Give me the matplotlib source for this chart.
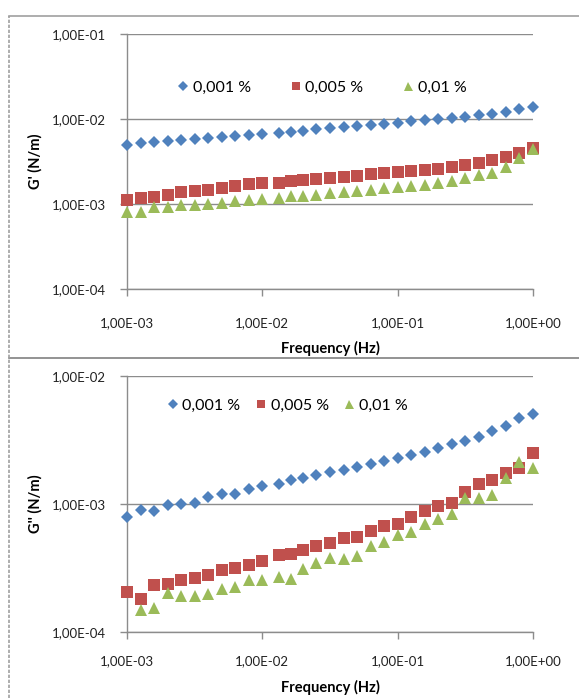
import matplotlib
matplotlib.use("Agg")
import matplotlib.pyplot as plt
from matplotlib.lines import Line2D
from matplotlib.ticker import FixedLocator, FuncFormatter, NullLocator
import numpy as np

plt.rcParams['font.family'] = ['Lato', 'DejaVu Sans']

# frequency (Hz)
freq = [0.001, 0.00126, 0.00158, 0.002, 0.00251, 0.00316, 0.00398, 0.00501, 0.00631, 0.00794,
        0.01, 0.0133, 0.0162, 0.02, 0.0251, 0.0316, 0.0398, 0.0501, 0.0631, 0.0794,
        0.1, 0.126, 0.158, 0.2, 0.251, 0.316, 0.398, 0.501, 0.631, 0.794, 1.0]

# G' (N/m)
g1_001 = [5.0e-3, 5.19e-3, 5.33e-3, 5.47e-3, 5.62e-3, 5.83e-3, 5.98e-3, 6.15e-3, 6.38e-3, 6.55e-3,
          6.67e-3, 6.92e-3, 7.11e-3, 7.30e-3, 7.57e-3, 7.85e-3, 8.06e-3, 8.28e-3, 8.59e-3, 8.82e-3,
          9.06e-3, 9.39e-3, 9.64e-3, 1.0e-2, 1.04e-2, 1.066e-2, 1.10e-2, 1.16e-2, 1.22e-2, 1.32e-2, 1.40e-2]
g1_005 = [1.12e-3, 1.17e-3, 1.22e-3, 1.29e-3, 1.37e-3, 1.43e-3, 1.47e-3, 1.54e-3, 1.64e-3, 1.70e-3,
          1.79e-3, 1.79e-3, 1.86e-3, 1.93e-3, 1.96e-3, 2.02e-3, 2.09e-3, 2.15e-3, 2.23e-3, 2.29e-3,
          2.37e-3, 2.42e-3, 2.48e-3, 2.57e-3, 2.71e-3, 2.89e-3, 3.02e-3, 3.31e-3, 3.62e-3, 3.96e-3, 4.62e-3]
g1_01 = [8.06e-4, 8.06e-4, 9.14e-4, 9.14e-4, 9.82e-4, 9.65e-4, 1.0e-3, 1.037e-3, 1.075e-3, 1.10e-3,
         1.13e-3, 1.18e-3, 1.23e-3, 1.24e-3, 1.29e-3, 1.33e-3, 1.38e-3, 1.43e-3, 1.47e-3, 1.53e-3,
         1.58e-3, 1.64e-3, 1.69e-3, 1.78e-3, 1.89e-3, 2.02e-3, 2.17e-3, 2.29e-3, 2.69e-3, 3.46e-3, 4.45e-3]

# G'' (N/m)
g2_001 = [7.87e-4, 8.93e-4, 8.77e-4, 9.82e-4, 1.0e-3, 1.018e-3, 1.13e-3, 1.20e-3, 1.20e-3, 1.32e-3,
          1.38e-3, 1.43e-3, 1.53e-3, 1.60e-3, 1.68e-3, 1.78e-3, 1.85e-3, 1.94e-3, 2.04e-3, 2.15e-3,
          2.27e-3, 2.41e-3, 2.57e-3, 2.75e-3, 2.92e-3, 3.13e-3, 3.33e-3, 3.75e-3, 4.07e-3, 4.71e-3, 5.02e-3]
g2_005 = [2.05e-4, 1.80e-4, 2.34e-4, 2.38e-4, 2.57e-4, 2.65e-4, 2.81e-4, 3.03e-4, 3.17e-4, 3.35e-4,
          3.60e-4, 4.01e-4, 4.08e-4, 4.40e-4, 4.73e-4, 4.96e-4, 5.43e-4, 5.56e-4, 6.12e-4, 6.70e-4,
          7.03e-4, 7.92e-4, 8.82e-4, 9.59e-4, 1.018e-3, 1.24e-3, 1.43e-3, 1.53e-3, 1.74e-3, 1.91e-3, 2.49e-3]
g2_01 = [np.nan, 1.48e-4, 1.54e-4, 2.0e-4, 1.91e-4, 1.91e-4, 1.97e-4, 2.18e-4, 2.26e-4, 2.57e-4,
         2.57e-4, 2.68e-4, 2.61e-4, 3.13e-4, 3.47e-4, 3.77e-4, 3.75e-4, 3.91e-4, 4.68e-4, 5.02e-4,
         5.73e-4, 6.01e-4, 7.03e-4, 7.64e-4, 8.41e-4, 1.107e-3, 1.12e-3, 1.18e-3, 1.59e-3, 2.14e-3, 1.91e-3]

labels = ['0,001 %', '0,005 %', '0,01 %']
colors = ['#4F81BD', '#C0504D', '#9BBB59']
markers = ['D', 's', '^']
msizes = [6.6, 8.3, 9]

x_ticks = [1e-3, 1e-2, 1e-1, 1e0]
grey = '#8c8c8c'

def excel_fmt(v, pos=None):
    return f"{v:.2E}".replace('.', ',')

fig = plt.figure(figsize=(5.79, 6.98), dpi=100)

# panel frames
fig.add_artist(Line2D([9 / 579, 1], [1 - 16 / 698] * 2, color='#a0a0a0', lw=1.2))
fig.add_artist(Line2D([9 / 579, 1], [1 - 358 / 698] * 2, color='#808080', lw=1.2))
fig.add_artist(Line2D([9 / 579] * 2, [0, 1 - 16 / 698], color='#a0a0a0', lw=1.2, ls=(0, (2, 1))))

ax1 = fig.add_axes([127 / 579, 1 - 289 / 698, 406 / 579, 255 / 698])
ax2 = fig.add_axes([127 / 579, 1 - 632 / 698, 406 / 579, 256 / 698])

panels = [
    (ax1, [g1_001, g1_005, g1_01], (1e-4, 1e-1), "G' (N/m)", (0.48, 0.79), 2.45, 15),
    (ax2, [g2_001, g2_005, g2_01], (1e-4, 1e-2), "G'' (N/m)", (0.395, 0.885), 0.95, 12),
]

for ax, series, ylim, ylabel, leg_pos, colsp, xpad in panels:
    for ys, lab, c, m, ms in zip(series, labels, colors, markers, msizes):
        ax.plot(freq, ys, linestyle='none', marker=m, markersize=ms, color=c,
                markeredgewidth=0, label=lab, clip_on=False, zorder=3)
    ax.set_xscale('log')
    ax.set_yscale('log')
    ax.set_xlim(1e-3, 1e0)
    ax.set_ylim(*ylim)
    ax.xaxis.set_major_locator(FixedLocator(x_ticks))
    ax.xaxis.set_minor_locator(NullLocator())
    ax.yaxis.set_minor_locator(NullLocator())
    yt = [10.0 ** k for k in range(int(round(np.log10(ylim[0]))), int(round(np.log10(ylim[1]))) + 1)]
    ax.yaxis.set_major_locator(FixedLocator(yt))
    ax.xaxis.set_major_formatter(FuncFormatter(excel_fmt))
    ax.yaxis.set_major_formatter(FuncFormatter(excel_fmt))
    ax.grid(axis='y', color=grey, lw=1)
    ax.set_axisbelow(True)
    for s in ['top', 'right']:
        ax.spines[s].set_visible(False)
    for s in ['left', 'bottom']:
        ax.spines[s].set_color(grey)
        ax.spines[s].set_linewidth(1)
    ax.tick_params(axis='both', direction='out', length=5, width=1, color=grey,
                   labelsize=9.5, labelcolor='#222222')
    ax.tick_params(axis='x', pad=xpad)
    ax.tick_params(axis='y', pad=10)
    ax.set_xlabel('Frequency (Hz)', fontsize=10.5, fontweight='bold', labelpad=9)
    ax.set_ylabel(ylabel, fontsize=10.5, fontweight='bold', labelpad=7)
    ax.legend(loc='center', bbox_to_anchor=leg_pos, ncol=3, frameon=False,
              fontsize=11.5, markerscale=0.72, handlelength=0.7, handletextpad=0.25,
              columnspacing=colsp, borderpad=0)

fig.savefig('out.png', dpi=100)
